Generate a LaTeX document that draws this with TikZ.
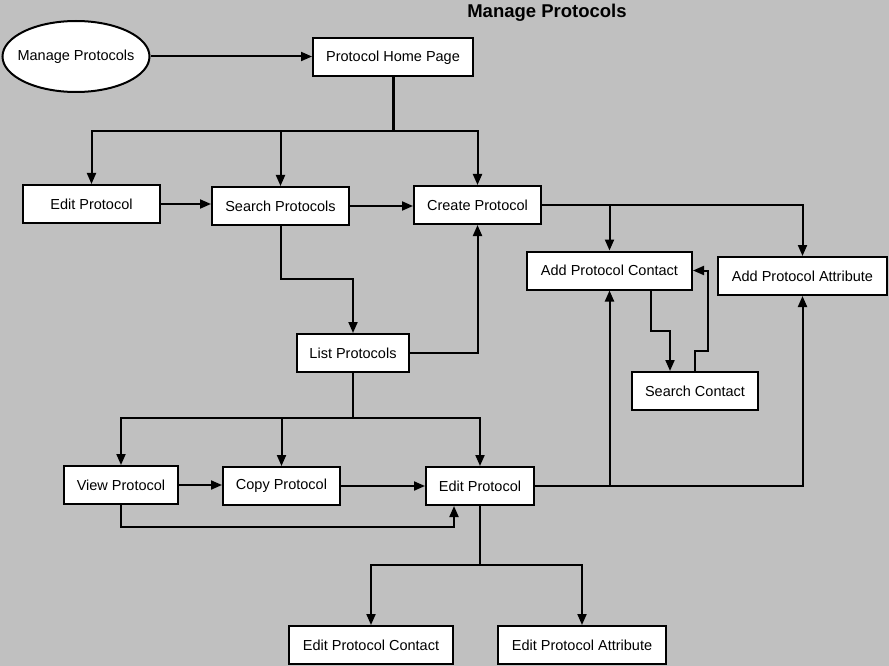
\documentclass[tikz,border=0pt]{standalone}
\usepackage{fontspec}
\setmainfont{Liberation Sans}
\usepackage{tikz}
\usetikzlibrary{arrows.meta,shapes.geometric}

\begin{document}
\begin{tikzpicture}[x=1pt, y=-1pt, line width=2pt,
    >={Triangle[length=11pt,width=9pt]},
    box/.style={draw, fill=white, inner sep=0pt, minimum height=38pt,
      font=\fontsize{14.5}{17}\selectfont}]
      \fill[fill={rgb,255:red,192;green,192;blue,192}] (0,0) rectangle (889,666);
      \useasboundingbox (0,0) rectangle (889,666);

      \node[font=\bfseries\fontsize{18.5}{21}\selectfont] (Title) at (547, 13) {Manage Protocols};

      \node[draw, fill=white, ellipse, minimum width=147pt, minimum height=71pt,
        inner xsep=-8pt, inner ysep=0pt,
        font=\fontsize{14.5}{17}\selectfont] (Manage) at (76, 56.5) {Manage Protocols};
      \node[box, minimum width=160pt] (Home) at (393, 57.5) {Protocol Home Page};

      \node[box, minimum width=137pt] (EditTop) at (91.5, 204) {Edit Protocol};
      \node[box, minimum width=137pt] (Search) at (280.5, 206) {Search Protocols};
      \node[box, minimum width=127pt] (Create) at (477.5, 205) {Create Protocol};

      \node[box, minimum width=165pt] (Contact) at (609.5, 270.5) {Add Protocol Contact};
      \node[box, minimum width=169pt] (Attr) at (802.5, 276) {Add Protocol Attribute};
      \node[box, minimum width=112pt] (List) at (353, 353) {List Protocols};
      \node[box, minimum width=126pt] (SearchC) at (695, 391) {Search Contact};

      \node[box, minimum width=114pt] (View) at (121, 485) {View Protocol};
      \node[box, minimum width=117pt] (Copy) at (281.5, 486) {Copy Protocol};
      \node[box, minimum width=108pt] (EditLow) at (480, 486) {Edit Protocol};

      \node[box, minimum width=164pt] (EPC) at (371, 645) {Edit Protocol Contact};
      \node[box, minimum width=168pt] (EPA) at (582, 645) {Edit Protocol Attribute};

      \coordinate (SplitTop) at (393, 131);
      \coordinate (SplitMid) at (353, 418);
      \coordinate (SplitLow) at (480, 565);

      \draw[->] (Manage.east) -- (Manage.east -| Home.west);

      \draw[line width=3pt] (Home.south) -- (SplitTop);
      \draw[->] (SplitTop) -| (EditTop.north);
      \draw[->] (SplitTop) -| (Search.north);
      \draw[->] (SplitTop) -| (Create.north);

      \draw[->] (EditTop.east) -- (EditTop.east -| Search.west);
      \draw[->] (Search.east) -- (Search.east -| Create.west);
      \draw[->] (Search.south) -- ++(0, 53) -| (List.north);
      \draw[->] (List.east) -| (Create.south);

      \draw[->] (Create.east) -| (Attr.north);
      \draw[->] (Create.east -| Contact.north) -- (Contact.north);
      \draw[->] ([xshift=41.5pt]Contact.south) -- ++(0, 40) -| ([xshift=-25pt]SearchC.north);
      \draw[->] (SearchC.north) -- ++(0, -20) -- ++(13, 0) |- (Contact.east);

      \draw (List.south) -- (SplitMid);
      \draw[->] (SplitMid) -| (View.north);
      \draw[->] (SplitMid) -| (Copy.north);
      \draw[->] (SplitMid) -| (EditLow.north);

      \draw[->] (View.east) -- (View.east -| Copy.west);
      \draw[->] (Copy.east) -- (EditLow.west);
      \draw[->] (View.south) -- ++(0, 22) -| ([xshift=-26pt]EditLow.south);

      \draw[->] (EditLow.east) -| (Attr.south);
      \draw[->] (EditLow.east -| Contact.south) -- (Contact.south);

      \draw (EditLow.south) -- (SplitLow);
      \draw[->] (SplitLow) -| (EPC.north);
      \draw[->] (SplitLow) -| (EPA.north);
\end{tikzpicture}
\end{document}
